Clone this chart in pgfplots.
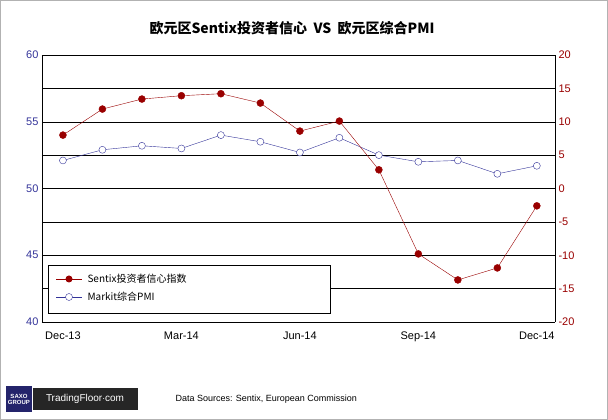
\documentclass[border=0pt]{standalone}
\usepackage{pgfplots}
\pgfplotsset{compat=1.18}
\usepackage{fontspec}
\setmainfont{Liberation Sans}
\newfontfamily\cjk{Noto Sans CJK SC}
\definecolor{sred}{HTML}{990000}
\definecolor{pblue}{HTML}{333399}
\begin{document}
\begin{tikzpicture}
\path[use as bounding box] (0pt,0pt) rectangle (608pt,420pt);
\draw[gray!60] (0.5pt,0.5pt) rectangle (607.5pt,419.5pt);
\begin{axis}[at={(42pt,98pt)},anchor=south west,width=513pt,height=267pt,scale only axis,
 xmin=-0.53,xmax=12.46,ymin=40,ymax=60,
 xtick={0,3,6,9,12},xticklabels={Dec-13,Mar-14,Jun-14,Sep-14,Dec-14},
 ytick={40,45,50,55,60},minor ytick={42.5,47.5,52.5,57.5},
 ymajorgrids,yminorgrids,grid style={black,thin},minor grid style={black,thin},
 axis y line*=left, axis x line*=bottom,
 tick style={draw=none},
 ticklabel style={font=\fontsize{11}{12}\selectfont},
 xticklabel style={yshift=-6pt},
 yticklabel style={pblue},
 x axis line style={black}, y axis line style={black},
 /pgf/number format/assume math mode=true]
\addplot[pblue,mark=*,mark size=3.5pt,mark options={fill=white,draw=pblue}] coordinates {
(0,52.1)(1,52.9)(2,53.2)(3,53.0)(4,54.0)(5,53.5)(6,52.7)(7,53.8)(8,52.5)(9,52.0)(10,52.1)(11,51.1)(12,51.7)};
\end{axis}
\begin{axis}[at={(42pt,98pt)},anchor=south west,width=513pt,height=267pt,scale only axis,
 xmin=-0.53,xmax=12.46,ymin=-20,ymax=20,
 ytick={-20,-15,...,20},
 axis y line*=right, axis x line=none,
 tick style={draw=none},
 ticklabel style={font=\fontsize{11}{12}\selectfont},
 yticklabel style={sred},
 /pgf/number format/assume math mode=true]
\addplot[sred,mark=*,mark size=3.5pt,mark options={fill=sred,draw=sred}] coordinates {
(0,8.0)(1,11.9)(2,13.4)(3,13.9)(4,14.2)(5,12.8)(6,8.6)(7,10.1)(8,2.8)(9,-9.8)(10,-13.7)(11,-11.9)(12,-2.6)};
\end{axis}
\begin{scope}[x=1pt,y=1pt]
\node[font=\cjk\bfseries\fontsize{14}{16}\selectfont] at (292,392) {欧元区Sentix投资者信心 \ VS \ 欧元区综合PMI};
\draw[black,fill=white] (48,107) rectangle (330,155);
\draw[sred] (56,141)--(82,141); \fill[sred] (69,141) circle (3.5);
\node[anchor=west,font=\cjk\fontsize{10}{11}\selectfont] at (84,141) {Sentix投资者信心指数};
\draw[pblue] (56,123)--(82,123); \draw[pblue,fill=white] (69,123) circle (3.5);
\node[anchor=west,font=\cjk\fontsize{10}{11}\selectfont] at (84,123) {Markit综合PMI};
\fill[pblue!70!black] (6,8) rectangle (32,34);
\node[white,font=\bfseries\fontsize{6}{6}\selectfont,align=center] at (19,21) {SAXO\\GROUP};
\fill[black!85] (33,10) rectangle (138,32);
\node[white,font=\fontsize{10}{11}\selectfont] at (85,21) {TradingFloor$\cdot$com};
\node[anchor=west,font=\fontsize{9}{10}\selectfont] at (172,21) {Data Sources: Sentix, European Commission};
\end{scope}
\end{tikzpicture}
\end{document}
